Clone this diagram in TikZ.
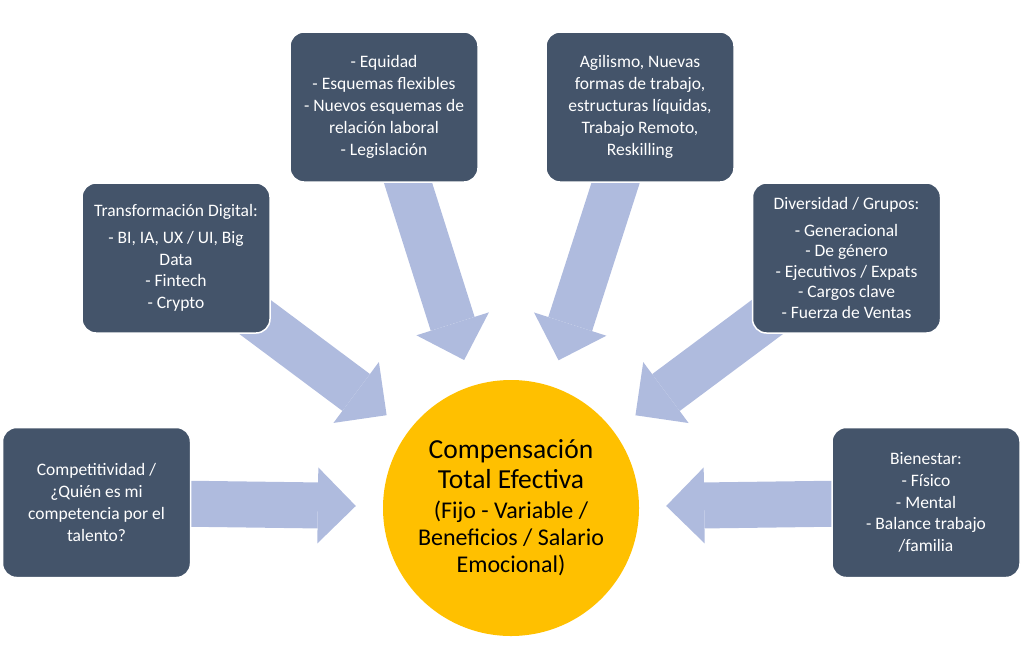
\documentclass[tikz,border=0pt]{standalone}
\usepackage{fontspec}
\setmainfont{Carlito}
\usetikzlibrary{arrows.meta,backgrounds}

\definecolor{slate}{HTML}{44546A}
\definecolor{flowblue}{RGB}{175,187,222}
\definecolor{gold}{HTML}{FFC000}

\begin{document}
\begin{tikzpicture}[
  x=1pt, y=-1pt,
  card/.style={draw=white, line width=1.5pt, fill=slate, rounded corners=14pt,
               minimum width=188pt, minimum height=150pt, align=center,
               text=white, font=\fontsize{17.5}{21.8}\selectfont},
  flow/.style={draw=flowblue, line width=46pt,
               -{Triangle[length=38pt, width=76pt, line width=0pt]},
               shorten >=27pt},
]
\useasboundingbox (0,0) rectangle (1024,670);

% central goal
\node[circle, fill=gold, minimum size=256pt, inner sep=0pt, align=center,
      font=\fontsize{24}{27}\selectfont] (core) at (511,508)
  {{\fontsize{27.5}{30}\selectfont Compensación}\\[3pt]
   {\fontsize{27.5}{30}\selectfont Total Efectiva}\\[3pt]
   (Fijo - Variable /\\ Beneficios / Salario\\ Emocional)};

% drivers around it
\node[card] (rival) at (96.5,502.5)
  {Competitividad /\\ ¿Quién es mi\\ competencia por el\\ talento?};
\node[card] (digital) at (176,258)
  {Transformación Digital:\\[5pt] - BI, IA, UX / UI, Big\\ Data\\ - Fintech\\ - Crypto};
\node[card] (equity) at (384,107)
  {- Equidad\\ - Esquemas flexibles\\ - Nuevos esquemas de\\ relación laboral\\ - Legislación};
\node[card] (agile) at (640,107)
  {Agilismo, Nuevas\\ formas de trabajo,\\ estructuras líquidas,\\ Trabajo Remoto,\\ Reskilling};
\node[card, font=\fontsize{17.5}{20.5}\selectfont] (groups) at (846.5,258)
  {Diversidad / Grupos:\\[6pt] - Generacional\\ - De género\\ - Ejecutivos / Expats\\ - Cargos clave\\ - Fuerza de Ventas};
\node[card] (health) at (926,502.5)
  {Bienestar:\\ - Físico\\ - Mental\\ - Balance trabajo\\ /familia};

% block arrows pointing to the centre
\begin{scope}[on background layer]
\draw[flow] (rival.center) -- (core);
\draw[flow] (digital.center) -- (core);
\draw[flow] (equity.center) -- (core);
\draw[flow] (agile.center) -- (core);
\draw[flow] (groups.center) -- (core);
\draw[flow] (health.center) -- (core);
\end{scope}
\end{tikzpicture}
\end{document}
